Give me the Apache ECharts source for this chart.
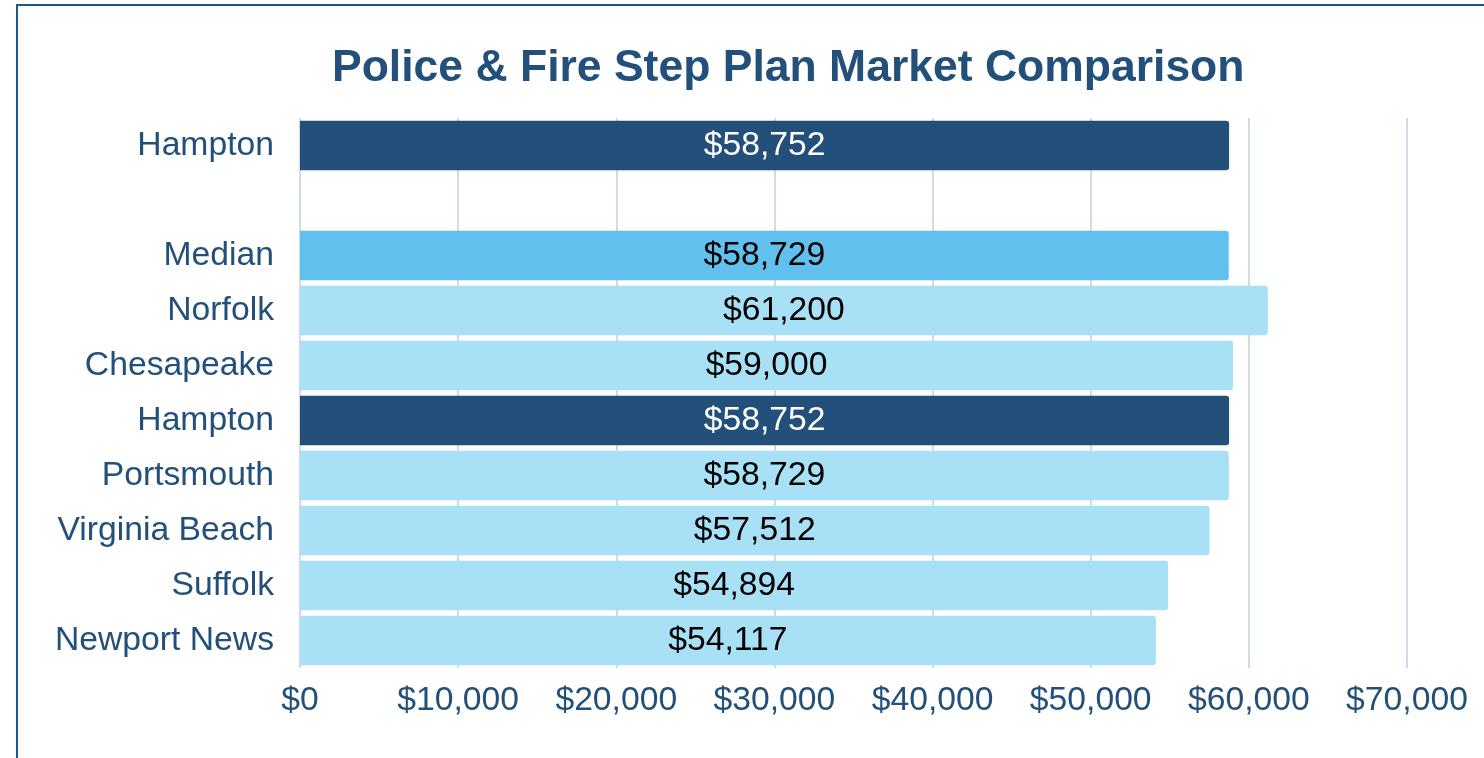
<!DOCTYPE html>
<html>
<head>
<meta charset="utf-8">
<script src="https://cdn.jsdelivr.net/npm/echarts@6/dist/echarts.min.js"></script>
<style>
  html, body { margin: 0; padding: 0; background: #fff; }
  #main { width: 1484px; height: 758px; }
</style>
</head>
<body>
<div id="main"></div>
<script>
// rows top to bottom; "" is the empty spacer row
const cities = ["Hampton", "", "Median", "Norfolk", "Chesapeake", "Hampton",
  "Portsmouth", "Virginia Beach", "Suffolk", "Newport News"];
const salaries = [58752, null, 58729, 61200, 59000, 58752, 58729, 57512, 54894, 54117];
const rowKind = ["hampton", "", "median", "city", "city", "hampton", "city", "city", "city", "city"];
const xTicks = [0, 10000, 20000, 30000, 40000, 50000, 60000, 70000];

const kindColor = { hampton: "#23507a", median: "#62c0ee", city: "#a8e0f5" };
const kindText = { hampton: "#ffffff", median: "#000000", city: "#000000" };
const fontFamily = "'Liberation Sans', Arial, sans-serif";

const seriesData = salaries.map(function (v, i) {
  if (v == null) return "-";
  return {
    value: v,
    itemStyle: { color: kindColor[rowKind[i]] },
    label: { color: kindText[rowKind[i]] }
  };
});

const chart = echarts.init(document.getElementById("main"));
chart.setOption({
  animation: false,
  textStyle: { fontFamily: fontFamily },
  title: {
    text: "Police & Fire Step Plan Market Comparison",
    left: 332,
    top: 41,
    padding: [5, 0],
    textStyle: { fontSize: 44.5, fontWeight: "bold", color: "#23507a", fontFamily: fontFamily }
  },
  graphic: [{
    type: "rect",
    shape: { x: 17, y: 5, width: 3000, height: 3000 },
    style: { fill: "none", stroke: "#1b5a86", lineWidth: 2 },
    silent: true
  }],
  grid: { left: 300, right: 77, top: 118, bottom: 90 },
  xAxis: {
    type: "value",
    min: xTicks[0],
    max: xTicks[xTicks.length - 1],
    interval: 10000,
    axisLine: { show: false },
    axisTick: { show: false },
    splitLine: { show: true, lineStyle: { color: "#d0dbe6", width: 2 } },
    axisLabel: {
      margin: 16,
      fontSize: 33.7,
      color: "#23507a",
      fontFamily: fontFamily,
      formatter: function (v) { return "$" + v.toLocaleString("en-US"); }
    }
  },
  yAxis: {
    type: "category",
    inverse: true,
    data: cities,
    axisLine: { show: false },
    axisTick: { show: false },
    axisLabel: { margin: 26, fontSize: 33.7, color: "#23507a", fontFamily: fontFamily }
  },
  series: [{
    type: "bar",
    data: seriesData,
    barCategoryGap: "10%",
    itemStyle: { borderRadius: [0, 3, 3, 0] },
    label: {
      show: true,
      position: "inside",
      fontSize: 33.7,
      fontFamily: fontFamily,
      formatter: function (p) { return "$" + p.value.toLocaleString("en-US"); }
    }
  }]
});
</script>
</body>
</html>
